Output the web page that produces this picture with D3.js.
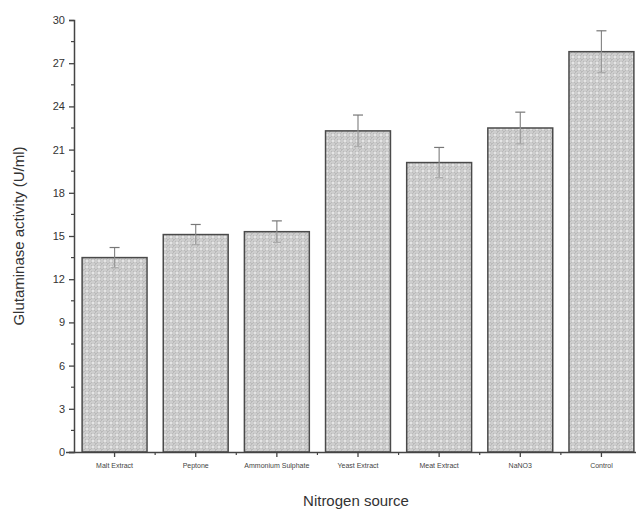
<!DOCTYPE html>
<html>
<head>
<meta charset="utf-8">
<script src="https://cdn.jsdelivr.net/npm/d3@7"></script>
<style>
  body { margin: 0; background: #fff; }
  svg { display: block; font-family: "Liberation Sans", Arial, sans-serif; }
</style>
</head>
<body>
<svg id="chart" width="636" height="513"></svg>
<script>
/* global d3: false */

const sources = ['Malt Extract', 'Peptone', 'Ammonium Sulphate', 'Yeast Extract',
  'Meat Extract', 'NaNO3', 'Control'];
const activity = [13.5, 15.1, 15.3, 22.3, 20.1, 22.5, 27.8];
const errors = [0.7, 0.7, 0.75, 1.1, 1.05, 1.1, 1.45];
const yTicks = [0, 3, 6, 9, 12, 15, 18, 21, 24, 27, 30];

const svg = d3.select('#chart');
const plotLeft = 74;
const plotRight = 642;
const plotTop = 20;
const plotBottom = 452;

const x = d3.scaleBand().domain(sources).range([plotLeft, plotRight])
  .paddingInner(0.2).paddingOuter(0.1);
const y = d3.scaleLinear().domain([0, 30]).range([plotBottom, plotTop]);

// crosshatch fill like the original
const defs = svg.append('defs');
const pat = defs.append('pattern')
  .attr('id', 'hatch')
  .attr('width', 6)
  .attr('height', 6)
  .attr('patternUnits', 'userSpaceOnUse');
pat.append('rect').attr('width', 6).attr('height', 6).attr('fill', '#cdcdcd');
pat.append('path').attr('d', 'M0,0L6,6M6,0L0,6')
  .attr('stroke', '#b4b4b4').attr('stroke-width', 0.8);
pat.append('circle').attr('cx', 3).attr('cy', 3).attr('r', 1).attr('fill', '#f4f4f4');
pat.append('circle').attr('cx', 0).attr('cy', 0).attr('r', 0.8).attr('fill', '#eeeeee');

const data = sources.map((s, i) => ({ s, v: activity[i], e: errors[i] }));

svg.append('g')
  .selectAll('rect')
  .data(data)
  .enter()
  .append('rect')
  .attr('x', d => x(d.s))
  .attr('y', d => y(d.v))
  .attr('width', x.bandwidth())
  .attr('height', d => y(0) - y(d.v))
  .attr('fill', 'url(#hatch)')
  .attr('stroke', '#4a4a4a')
  .attr('stroke-width', 1.5);

// error bars: upper half darker, lower half fades into the bar
const eb = svg.append('g').attr('stroke-width', 1.2);
data.forEach((d) => {
  const cx = x(d.s) + x.bandwidth() / 2;
  eb.append('line').attr('x1', cx).attr('x2', cx)
    .attr('y1', y(d.v)).attr('y2', y(d.v + d.e)).attr('stroke', '#888');
  eb.append('line').attr('x1', cx - 5).attr('x2', cx + 5)
    .attr('y1', y(d.v + d.e)).attr('y2', y(d.v + d.e)).attr('stroke', '#777');
  eb.append('line').attr('x1', cx).attr('x2', cx)
    .attr('y1', y(d.v)).attr('y2', y(d.v - d.e)).attr('stroke', '#999');
  eb.append('line').attr('x1', cx - 4).attr('x2', cx + 4)
    .attr('y1', y(d.v - d.e)).attr('y2', y(d.v - d.e)).attr('stroke', '#aaa');
});

// y axis
const yAxis = svg.append('g')
  .attr('transform', `translate(${plotLeft},0)`)
  .call(d3.axisLeft(y).tickValues(yTicks).tickSize(5).tickPadding(4));
yAxis.select('.domain').attr('stroke', '#444').attr('stroke-width', 1.5);
yAxis.selectAll('.tick line').attr('stroke', '#444').attr('stroke-width', 1.3);
yAxis.selectAll('.tick text').attr('font-size', 11).attr('fill', '#333');
yAxis.append('g')
  .selectAll('line')
  .data(yTicks.slice(0, -1).map(t => t + 1.5))
  .enter()
  .append('line')
  .attr('x1', -3)
  .attr('x2', 0)
  .attr('y1', d => y(d))
  .attr('y2', d => y(d))
  .attr('stroke', '#444')
  .attr('stroke-width', 1.2);

// x axis
const xAxis = svg.append('g')
  .attr('transform', `translate(0,${plotBottom})`)
  .call(d3.axisBottom(x).tickSize(5).tickPadding(6).tickSizeOuter(0));
xAxis.select('.domain').attr('stroke', '#444').attr('stroke-width', 1.5)
  .attr('d', `M${plotLeft - 8},0.5H636`);
xAxis.selectAll('.tick line').attr('stroke', '#444').attr('stroke-width', 1.3);
xAxis.selectAll('.tick text').attr('font-size', 7).attr('fill', '#444');
xAxis.append('g')
  .selectAll('line')
  .data(sources.slice(1))
  .enter()
  .append('line')
  .attr('x1', d => x(d) - (x.step() * x.paddingInner()) / 2)
  .attr('x2', d => x(d) - (x.step() * x.paddingInner()) / 2)
  .attr('y1', 0)
  .attr('y2', 3)
  .attr('stroke', '#444')
  .attr('stroke-width', 1.2);

// axis titles
svg.append('text')
  .attr('x', 356)
  .attr('y', 506)
  .attr('text-anchor', 'middle')
  .attr('font-size', 15)
  .attr('fill', '#333')
  .text('Nitrogen source');

svg.append('text')
  .attr('transform', `translate(24,${(plotTop + plotBottom) / 2}) rotate(-90)`)
  .attr('text-anchor', 'middle')
  .attr('font-size', 15)
  .attr('fill', '#333')
  .text('Glutaminase activity (U/ml)');
</script>
</body>
</html>
